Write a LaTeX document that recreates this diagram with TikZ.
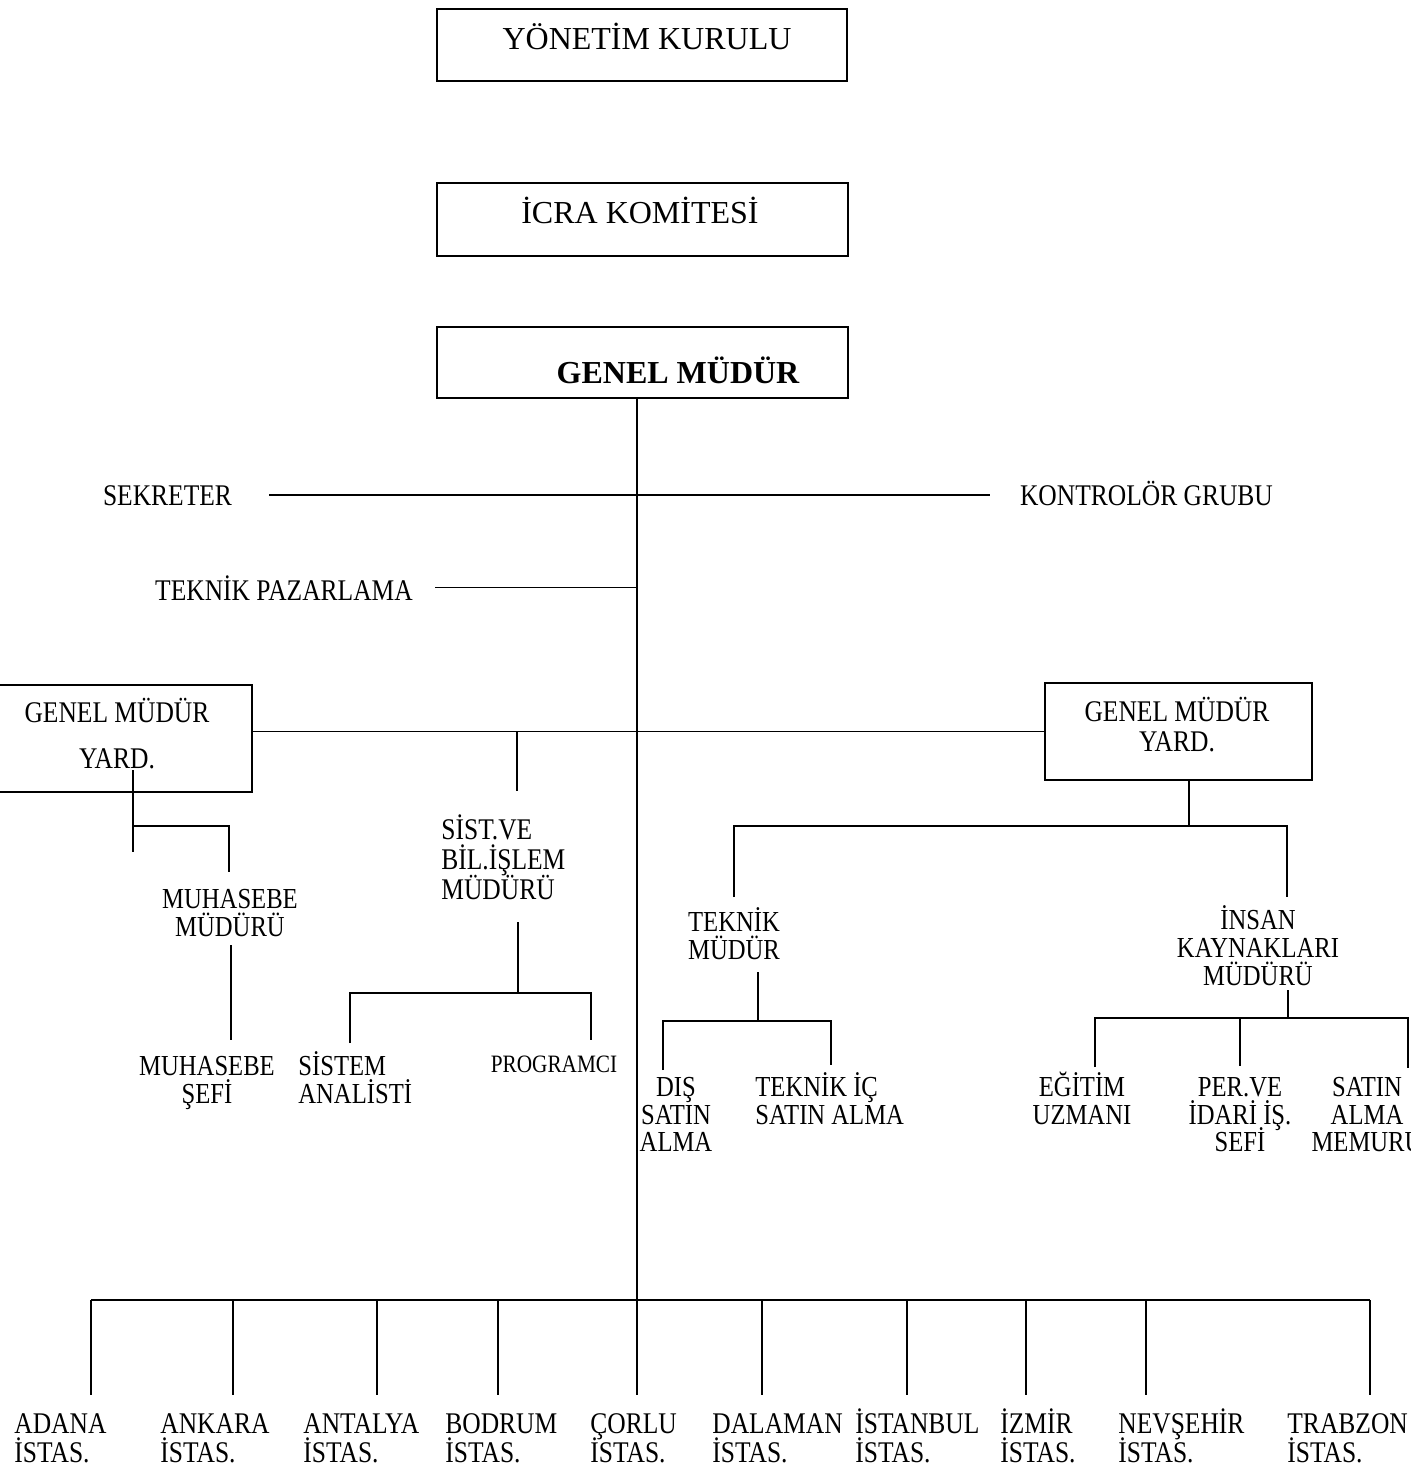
\documentclass[tikz,border=0pt]{standalone}
\usepackage{fontspec}
\setmainfont{Liberation Serif}
\newfontfamily\condfont{Liberation Serif}[FakeStretch=0.85]
\newcommand\stkC[1]{\vtop{\lineskiplimit=-100pt\lineskip=0pt\halign{\hfil##\hfil\cr#1\crcr}}}
\newcommand\stkL[1]{\vtop{\lineskiplimit=-100pt\lineskip=0pt\halign{##\hfil\cr#1\crcr}}}
\tikzset{
  box/.style={draw, line width=0.9pt, inner sep=0pt},
  ttl/.style={font=\fontsize{16}{19}\selectfont, inner sep=0pt, anchor=base},
  lab/.style={font=\condfont\fontsize{15}{14.5}\selectfont, inner sep=0pt, anchor=base},
  sml/.style={font=\condfont\fontsize{14.5}{14}\selectfont, inner sep=0pt, anchor=base},
  conn/.style={line width=0.85pt},
}
\begin{document}
\begin{tikzpicture}[x=0.5pt,y=-0.5pt]
\useasboundingbox (0,0) rectangle (1411,1466);
\clip (0,0) rectangle (1411,1466);
\fill[white] (0,0) rectangle (1411,1466);

% top boxes
\node[box, minimum width=205pt, minimum height=36pt] (yk) at (642,45) {};
\node[ttl] (ykt) at (647,50) {YÖNETİM KURULU};
\node[box, minimum width=205.5pt, minimum height=36.5pt] (icra) at (642.5,219.5) {};
\node[ttl] (icrat) at (640,224) {İCRA KOMİTESİ};
\node[box, minimum width=205.5pt, minimum height=35.5pt] (gm) at (642.5,362.5) {};
\node[ttl, font=\bfseries\fontsize{16}{19}\selectfont] (gmt) at (678,383) {GENEL MÜDÜR};

% main axis
\coordinate (mx) at (637,1300);
\draw[conn] (gm.south -| mx) -- (mx) -- ++(0,95);

% staff
\node[lab] (sek) at (167.5,505) {SEKRETER};
\node[lab] (kon) at (1146.5,505) {KONTROLÖR GRUBU};
\draw[conn] ([xshift=18.5pt]sek.east) -- ([xshift=-15pt]kon.west |- sek.east);
\node[lab] (tp) at (284,600) {TEKNİK PAZARLAMA};
\draw[conn] ([xshift=11pt]tp.east) -- (tp.east -| mx);

% assistant general managers
\node[box, minimum width=128.5pt, minimum height=53.5pt] (lg) at (123.5,738.5) {};
\node[lab, font=\condfont\fontsize{15}{23}\selectfont] (lgt) at (117,722) {\stkC{GENEL MÜDÜR\cr YARD.}};
\node[box, minimum width=133.5pt, minimum height=48.5pt] (rg) at (1178.5,731.5) {};
\node[lab, font=\condfont\fontsize{15}{15}\selectfont] (rgt) at (1177,721) {\stkC{GENEL MÜDÜR\cr YARD.}};
\draw[conn] (lg.east |- rg.west) -- (rg.west);

% left branch
\coordinate (l1) at (133,770);
\coordinate (l2) at (133,826);
\coordinate (l3) at (229,826);
\draw[conn] (l1) -- ([yshift=-13pt]l2);
\draw[conn] (l2) -- (l3) -- ([yshift=-23pt]l3);
\node[sml] (muh) at (230,908.5) {\stkC{MUHASEBE\cr MÜDÜRÜ}};
\coordinate (m1) at (231,945);
\draw[conn] (m1) -- ++(0,95);
\node[sml] (muhs) at (207,1075.5) {\stkC{MUHASEBE\cr ŞEFİ}};

% systems
\coordinate (sd) at (517,731.5);
\draw[conn] (sd) -- ++(0,59);
\node[lab, anchor=base west, font=\condfont\fontsize{15}{15}\selectfont] (sist) at (441,839) {\stkL{SİST.VE\cr BİL.İŞLEM\cr MÜDÜRÜ}};
\coordinate (sj) at (518,993);
\draw[conn] (sj) -- ++(0,-71);
\coordinate (sa1) at (350,993);
\coordinate (pr1) at (591,993);
\draw[conn] ([yshift=-25pt]sa1) -- (sa1) -- (pr1) -- ([yshift=-23.5pt]pr1);
\node[sml, anchor=base west] (sa) at (298,1075.5) {\stkL{SİSTEM\cr ANALİSTİ}};
\node[sml, font=\condfont\fontsize{12.5}{14}\selectfont] (prog) at (554,1072) {PROGRAMCI};

% right branch
\coordinate (r1) at (1189,780);
\draw[conn] (r1) -- ++(0,46);
\coordinate (t1) at (734,826);
\coordinate (i1) at (1287,826);
\draw[conn] ([yshift=-35.5pt]t1) -- (t1) -- (i1) -- ([yshift=-35.5pt]i1);
\node[sml] (tek) at (734,931.5) {\stkC{TEKNİK\cr MÜDÜR}};
\coordinate (tk) at (758,1021);
\draw[conn] (tk) -- ++(0,-49);
\coordinate (ds) at (663,1021);
\coordinate (ti) at (831,1021);
\draw[conn] ([yshift=-24.5pt]ds) -- (ds) -- (ti) -- ([yshift=-22pt]ti);
\node[sml, font=\condfont\fontsize{14.5}{13.75}\selectfont] (dis) at (676,1096.5) {\stkC{DIŞ\cr SATIN\cr ALMA}};
\node[sml, anchor=base west] (tic) at (755,1096.5) {\stkL{TEKNİK İÇ\cr SATIN ALMA}};

\node[sml] (ik) at (1258,929.5) {\stkC{İNSAN\cr KAYNAKLARI\cr MÜDÜRÜ}};
\coordinate (ij) at (1288,1018);
\draw[conn] (ij) -- ++(0,-28);
\coordinate (e1) at (1095,1018);
\coordinate (p1) at (1240,1018);
\coordinate (s1) at (1408,1018);
\draw[conn] ([yshift=-24.5pt]e1) -- (e1) -- (s1) -- ([yshift=-25pt]s1);
\draw[conn] (p1) -- ++(0,48);
\node[sml, font=\condfont\fontsize{14.5}{13.75}\selectfont] (egt) at (1082,1096.5) {\stkC{EĞİTİM\cr UZMANI}};
\node[sml, font=\condfont\fontsize{14.5}{13.75}\selectfont] (per) at (1240,1096.5) {\stkC{PER.VE\cr İDARİ İŞ.\cr SEFİ}};
\node[sml, font=\condfont\fontsize{14.5}{13.75}\selectfont] (sam) at (1367,1096.5) {\stkC{SATIN\cr ALMA\cr MEMURU}};

% stations
\coordinate (bl) at (91,1300);
\coordinate (br) at (1370,1300);
\draw[conn] (bl) -- (br);
\foreach \x [count=\i] in {91,233,377,498,762,907,1026,1146,1370}{
  \coordinate (dr\i) at (\x,1300);
  \draw[conn] (dr\i) -- ++(0,95);
}
\foreach \x/\n/\lbl in {14/adana/ADANA,160/ankara/ANKARA,303/antalya/ANTALYA,445/bodrum/BODRUM,590/corlu/ÇORLU,712/dalaman/DALAMAN,855/istanbul/İSTANBUL,1000/izmir/İZMİR,1118/nevsehir/NEVŞEHİR,1287/trabzon/TRABZON}{
  \node[lab, anchor=base west] (\n) at (\x,1433) {\stkL{\lbl\cr İSTAS.}};
}
\end{tikzpicture}
\end{document}
